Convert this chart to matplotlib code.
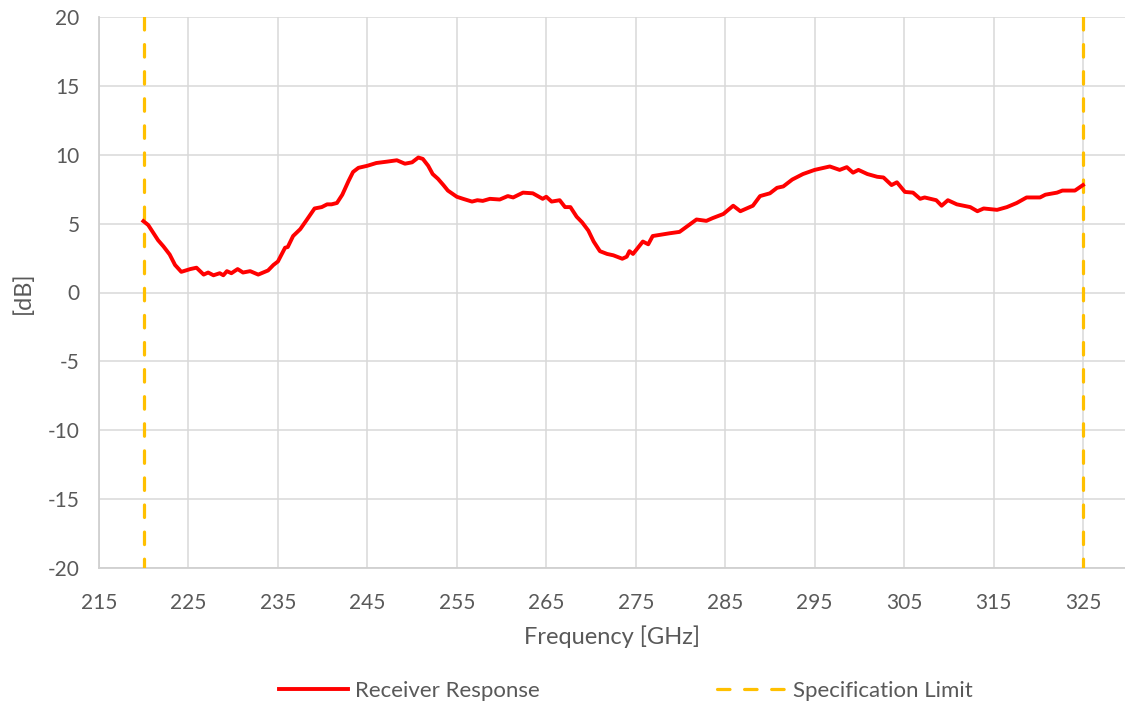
import matplotlib.pyplot as plt

plt.rcParams['font.family'] = ['Lato', 'DejaVu Sans']
plt.rcParams['lines.scale_dashes'] = False
plt.rcParams['axes.unicode_minus'] = False

# datos
freq = [219.96, 220.5, 221.0, 221.6, 222.2, 222.9, 223.5, 224.2, 225.2, 225.9,
        226.7, 227.2, 227.8, 228.5, 228.9, 229.3, 229.8, 230.5, 231.1, 231.9,
        232.8, 233.9, 234.5, 235.0, 235.8, 236.1, 236.7, 237.5, 238.2, 239.1,
        239.9, 240.5, 241.0, 241.6, 242.2, 242.9, 243.4, 244.0, 245.0, 246.0,
        247.2, 248.3, 249.2, 250.0, 250.7, 251.2, 251.8, 252.3, 252.9, 253.5,
        254.0, 255.0, 255.7, 256.7, 257.3, 257.9, 258.7, 259.8, 260.7, 261.3,
        262.4, 263.5, 264.6, 265.0, 265.6, 266.5, 267.1, 267.7, 268.4, 269.0,
        269.7, 270.3, 271.0, 271.8, 272.5, 273.5, 274.0, 274.3, 274.7, 275.8,
        276.4, 276.9, 278.8, 279.9, 281.8, 282.9, 283.6, 284.8, 285.9, 286.7,
        288.1, 288.9, 290.0, 290.8, 291.5, 292.5, 293.7, 295.0, 296.7, 297.8,
        298.6, 299.3, 299.9, 300.9, 302.0, 302.7, 303.6, 304.2, 305.1, 306.0,
        306.8, 307.3, 308.6, 309.2, 309.9, 310.9, 312.4, 313.2, 313.9, 315.4,
        316.5, 317.6, 318.7, 320.2, 320.8, 322.1, 322.7, 324.1, 325.0]
resp_db = [5.18, 4.9, 4.4, 3.8, 3.35, 2.76, 2.0, 1.5, 1.7, 1.8,
           1.3, 1.45, 1.25, 1.4, 1.25, 1.55, 1.4, 1.7, 1.45, 1.55,
           1.3, 1.6, 2.0, 2.25, 3.25, 3.3, 4.1, 4.6, 5.25, 6.1,
           6.2, 6.4, 6.4, 6.5, 7.1, 8.1, 8.75, 9.05, 9.2, 9.4,
           9.5, 9.6, 9.35, 9.45, 9.8, 9.7, 9.2, 8.6, 8.25, 7.8,
           7.4, 6.95, 6.8, 6.6, 6.7, 6.65, 6.8, 6.75, 7.0, 6.9,
           7.25, 7.2, 6.8, 6.95, 6.6, 6.7, 6.2, 6.2, 5.5, 5.1,
           4.5, 3.7, 3.0, 2.8, 2.7, 2.45, 2.6, 3.0, 2.8, 3.7,
           3.5, 4.1, 4.3, 4.4, 5.3, 5.2, 5.4, 5.7, 6.3, 5.9,
           6.3, 7.0, 7.2, 7.6, 7.7, 8.2, 8.6, 8.9, 9.15, 8.9,
           9.1, 8.7, 8.9, 8.6, 8.4, 8.35, 7.8, 8.0, 7.3, 7.25,
           6.8, 6.9, 6.7, 6.3, 6.7, 6.4, 6.2, 5.9, 6.1, 6.0,
           6.2, 6.5, 6.9, 6.9, 7.1, 7.25, 7.4, 7.4, 7.8]
spec_freq = [220, 325]
spec_db = [20, -20]
xticks = list(range(215, 330, 10))
yticks = list(range(-20, 25, 5))

txt = '#595959'
fig = plt.figure(figsize=(11.25, 7.07), dpi=100)
ax = fig.add_axes([99/1125, 1-568/707, 1-99/1125, (568-17)/707])

for i, f in enumerate(spec_freq):
    ax.plot([f, f], spec_db, color='#FFC000', lw=2.3, dashes=(9, 10.5),
            dash_capstyle='round', label='Specification Limit' if i == 0 else None, zorder=3)
ax.plot(freq, resp_db, color='#FF0000', lw=2.8, label='Receiver Response', zorder=4)

ax.set_xlim(215, 329.7)
ax.set_ylim(-20, 20)
ax.set_xticks(xticks)
ax.set_yticks(yticks)
ax.grid(True, color='#D9D9D9', lw=1.1)
ax.set_axisbelow(True)
for s in ['top', 'right']:
    ax.spines[s].set_visible(False)
for s in ['left', 'bottom']:
    ax.spines[s].set_color('#D0D0D0')
    ax.spines[s].set_linewidth(1.3)
ax.tick_params(length=0, labelsize=15, labelcolor=txt)
ax.tick_params(axis='x', pad=18)
ax.tick_params(axis='y', pad=14)
ax.set_xlabel('Frequency [GHz]', fontsize=17, color=txt, labelpad=9)
ax.set_ylabel('[dB]', fontsize=17, color=txt, labelpad=10)

h, l = ax.get_legend_handles_labels()
fig.legend(h[::-1], l[::-1], loc='center', bbox_to_anchor=(626/1125, 1-691/707),
           ncol=2, frameon=False, fontsize=16, labelcolor=txt,
           handlelength=3.1, handletextpad=0.3, columnspacing=8.0)

plt.savefig('out.png', dpi=100)
